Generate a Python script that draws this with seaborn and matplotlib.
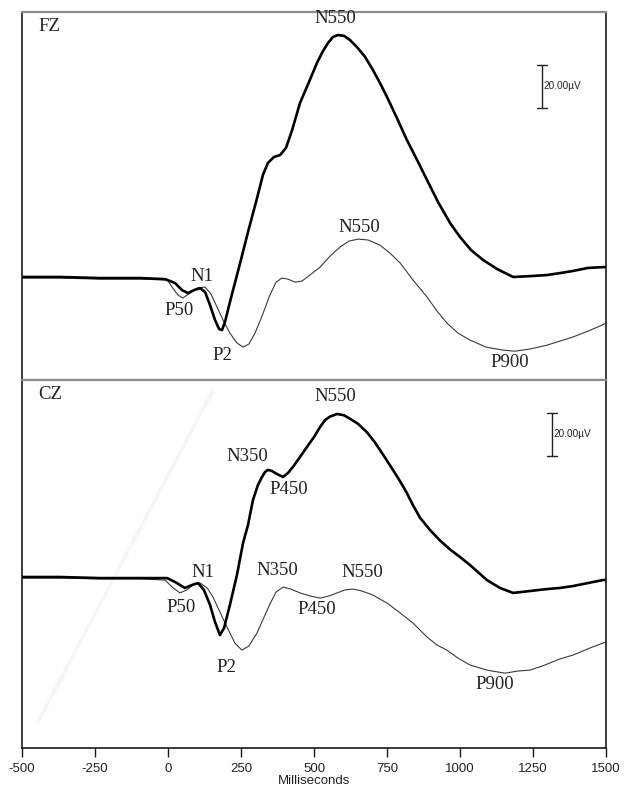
import matplotlib
matplotlib.use("Agg")
import matplotlib.pyplot as plt
import seaborn as sns
import pandas as pd

# ---------------- data (ms, microvolts; positive = downward, negative up) ----------------
fz_thick_ms = [-500, -370, -233, -96, -10, 24, 48, 69, 89, 110, 127, 144, 161, 175, 185,
               195, 212, 247, 274, 305, 325, 342, 363, 384, 404, 425, 452, 483, 510, 531,
               548, 565, 582, 603, 623, 647, 675, 702, 726, 750, 784, 818, 853, 887, 925,
               966, 1000, 1038, 1079, 1127, 1182, 1240, 1298, 1342, 1387, 1438, 1490, 1500]
fz_thick_uv = [-0.5, -0.5, 0.0, 0.0, 0.5, 2.3, 5.6, 7.0, 5.6, 4.7, 6.5, 12.6, 19.5, 23.7, 24.2,
               20.5, 11.2, -7.0, -21.4, -37.2, -47.9, -53.5, -56.3, -57.2, -60.5, -68.8, -81.4, -91.2, -100.0, -105.6,
               -109.3, -112.1, -113.0, -112.6, -110.7, -107.4, -102.8, -96.7, -90.7, -84.2, -74.4, -64.2, -54.9, -45.6, -35.3,
               -25.6, -19.1, -13.0, -8.4, -4.2, -0.5, -0.9, -1.4, -2.3, -3.3, -4.7, -5.1, -5.1]

fz_thin_ms = [-500, -370, -233, -96, -3, 17, 34, 51, 75, 99, 127, 147, 168, 192, 212,
              236, 257, 277, 298, 322, 349, 370, 390, 411, 435, 459, 486, 521, 555, 589,
              620, 651, 685, 726, 760, 795, 839, 887, 921, 955, 993, 1034, 1089, 1147, 1188,
              1240, 1298, 1342, 1387, 1438, 1486, 1500]
fz_thin_uv = [0.0, 0.0, 0.5, 0.5, 0.9, 4.7, 7.9, 9.3, 7.0, 4.7, 4.2, 7.4, 13.5, 20.5, 25.6,
              30.2, 32.1, 30.7, 25.6, 17.7, 7.9, 1.9, 0.0, 0.5, 1.9, 1.4, -1.4, -5.1, -10.2, -14.4,
              -17.2, -18.1, -17.7, -15.3, -11.6, -7.0, 0.9, 8.8, 15.3, 20.9, 25.6, 28.8, 32.1, 33.5, 34.0,
              33.0, 31.2, 29.3, 27.4, 24.7, 21.9, 20.9]

cz_thick_ms = [-500, -370, -233, -96, -3, 24, 58, 82, 103, 123, 144, 161, 178, 192, 212,
               236, 257, 274, 291, 308, 322, 332, 342, 356, 373, 394, 411, 428, 452, 476,
               500, 521, 538, 555, 579, 603, 623, 651, 682, 709, 736, 767, 795, 819, 839,
               863, 897, 932, 966, 1000, 1034, 1092, 1137, 1182, 1240, 1298, 1342, 1387, 1438, 1490,
               1500]
cz_thick_uv = [0.0, 0.0, 0.5, 0.5, 0.5, 2.3, 5.1, 3.7, 2.8, 6.0, 13.0, 20.9, 27.0, 23.7, 13.0,
               -0.9, -15.8, -24.2, -35.8, -42.8, -46.5, -48.8, -49.8, -49.3, -47.9, -46.5, -48.4, -51.2, -55.8, -60.5,
               -65.1, -69.8, -73.0, -74.6, -75.8, -75.2, -73.6, -71.2, -67.2, -62.5, -57.0, -50.5, -44.5, -38.8, -33.4,
               -27.6, -21.9, -16.9, -12.8, -9.3, -5.6, 1.4, 5.1, 7.4, 6.5, 5.6, 5.1, 4.2, 2.8, 1.4,
               1.4]

cz_thin_ms = [-500, -370, -233, -96, -10, 14, 41, 65, 86, 110, 134, 154, 178, 202, 229,
              253, 277, 305, 329, 349, 370, 394, 421, 452, 486, 521, 551, 579, 606, 634,
              664, 702, 750, 795, 839, 887, 921, 955, 993, 1034, 1092, 1154, 1199, 1240, 1291,
              1342, 1387, 1445, 1490, 1500]
cz_thin_uv = [0.5, 0.5, 0.9, 0.9, 1.4, 4.7, 7.4, 6.0, 3.7, 2.8, 5.1, 9.3, 16.3, 23.3, 30.7,
              34.0, 32.1, 26.0, 18.6, 12.6, 7.0, 4.7, 5.6, 7.4, 8.8, 9.8, 8.8, 7.4, 6.0, 5.6,
              6.5, 8.4, 12.1, 16.7, 21.4, 27.9, 31.6, 34.0, 37.7, 40.9, 43.3, 44.7, 43.7, 43.3, 40.9,
              38.1, 36.3, 33.0, 30.7, 30.2]

fz_label_text = ["N550", "N550", "N1", "P50", "P2", "P900"]
fz_label_ms = [572, 654, 116, 38, 185, 1171]
fz_label_uv = [-120.5, -23.7, -0.5, 14.9, 35.8, 39.1]

cz_label_text = ["N550", "N350", "P450", "N350", "N550", "P450", "N1", "P50", "P2", "P900"]
cz_label_ms = [572, 271, 414, 373, 664, 510, 120, 45, 199, 1120]
cz_label_uv = [-83.7, -55.8, -40.9, -2.8, -1.9, 15.3, -2.3, 14.4, 41.9, 50.2]

x_ticks = [-500, -250, 0, 250, 500, 750, 1000, 1250, 1500]
x_tick_labels = ["-500", "-250", "0", "250", "500", "750", "1000", "1250", "1500"]
scale_uv = 20.0

# ---------------- figure ----------------
sns.set_theme(style="white")
plt.rcParams['font.family'] = ['Liberation Serif', 'DejaVu Serif']

W, H = 624, 797
fig = plt.figure(figsize=(W / 100, H / 100), dpi=100)
fig.patch.set_facecolor("white")
ax_top = fig.add_axes([22 / W, 1 - 380 / H, 584 / W, 368 / H])
ax_bot = fig.add_axes([22 / W, 1 - 748 / H, 584 / W, 368 / H])

panels = [
    (ax_top, "FZ", fz_thin_ms, fz_thin_uv, fz_thick_ms, fz_thick_uv,
     fz_label_text, fz_label_ms, fz_label_uv, (47.4, -123.7), 1281, -99.1),
    (ax_bot, "CZ", cz_thin_ms, cz_thin_uv, cz_thick_ms, cz_thick_uv,
     cz_label_text, cz_label_ms, cz_label_uv, (79.5, -91.6), 1315, -76.3),
]

for (ax, name, tms, tuv, kms, kuv, ltxt, lms, luv, ylim, sx, sy) in panels:
    d_thin = pd.DataFrame({"ms": tms, "uv": tuv})
    d_thick = pd.DataFrame({"ms": kms, "uv": kuv})
    sns.lineplot(data=d_thin, x="ms", y="uv", ax=ax, color="#3a3a3a", linewidth=0.8,
                 sort=False, estimator=None)
    sns.lineplot(data=d_thick, x="ms", y="uv", ax=ax, color="black", linewidth=1.9,
                 sort=False, estimator=None)
    ax.set_xlim(-500, 1500)
    ax.set_ylim(*ylim)
    ax.set_ylabel("")
    ax.set_yticks([])
    for t, xm, yv in zip(ltxt, lms, luv):
        ax.text(xm, yv, t, ha="center", va="center", fontsize=13.5, color="#222222")
    ax.text(16 / 584, 1 - 14 / 368, name, transform=ax.transAxes, ha="left", va="center",
            fontsize=13.5, color="#222222")
    # scale bar (20 µV)
    cap = 16
    ax.plot([sx, sx], [sy, sy + scale_uv], color="#222222", lw=1.0)
    ax.plot([sx - cap, sx + cap], [sy, sy], color="#222222", lw=1.0)
    ax.plot([sx - cap, sx + cap], [sy + scale_uv, sy + scale_uv], color="#222222", lw=1.0)
    ax.text(sx + 4, sy + scale_uv / 2, "20.00\u00b5V", ha="left", va="center",
            fontsize=7.2, family=["Liberation Sans", "DejaVu Sans"], color="#222222")
    for s in ["left", "right"]:
        ax.spines[s].set_visible(True)
        ax.spines[s].set_color("#1a1a1a")
        ax.spines[s].set_linewidth(1.2)
    ax.spines["top"].set_color("#8c8c8c")
    ax.spines["top"].set_linewidth(1.6)

ax_top.spines["bottom"].set_color("#8c8c8c")
ax_top.spines["bottom"].set_linewidth(1.6)
ax_top.set_xticks([])
ax_top.set_xlabel("")

ax_bot.spines["bottom"].set_color("#1a1a1a")
ax_bot.spines["bottom"].set_linewidth(1.2)
ax_bot.set_xticks(x_ticks)
ax_bot.set_xticklabels(x_tick_labels, family=["Liberation Sans", "DejaVu Sans"], fontsize=9.5,
                       color="#222222")
ax_bot.tick_params(axis="x", bottom=True, direction="out", length=6.5, width=1.0,
                   color="#1a1a1a", pad=4)
ax_bot.set_xlabel("Milliseconds", family=["Liberation Sans", "DejaVu Sans"], fontsize=9.5,
                  labelpad=0, color="#222222")

# very faint diagonal scan artefact in the lower panel
ax_bot.plot([38 / W, 212 / W], [1 - 722 / H, 1 - 392 / H], transform=fig.transFigure,
            color="#f6f6f6", lw=2.5, zorder=0.5, clip_on=False)

fig.savefig("out.png", dpi=100, facecolor="white")
